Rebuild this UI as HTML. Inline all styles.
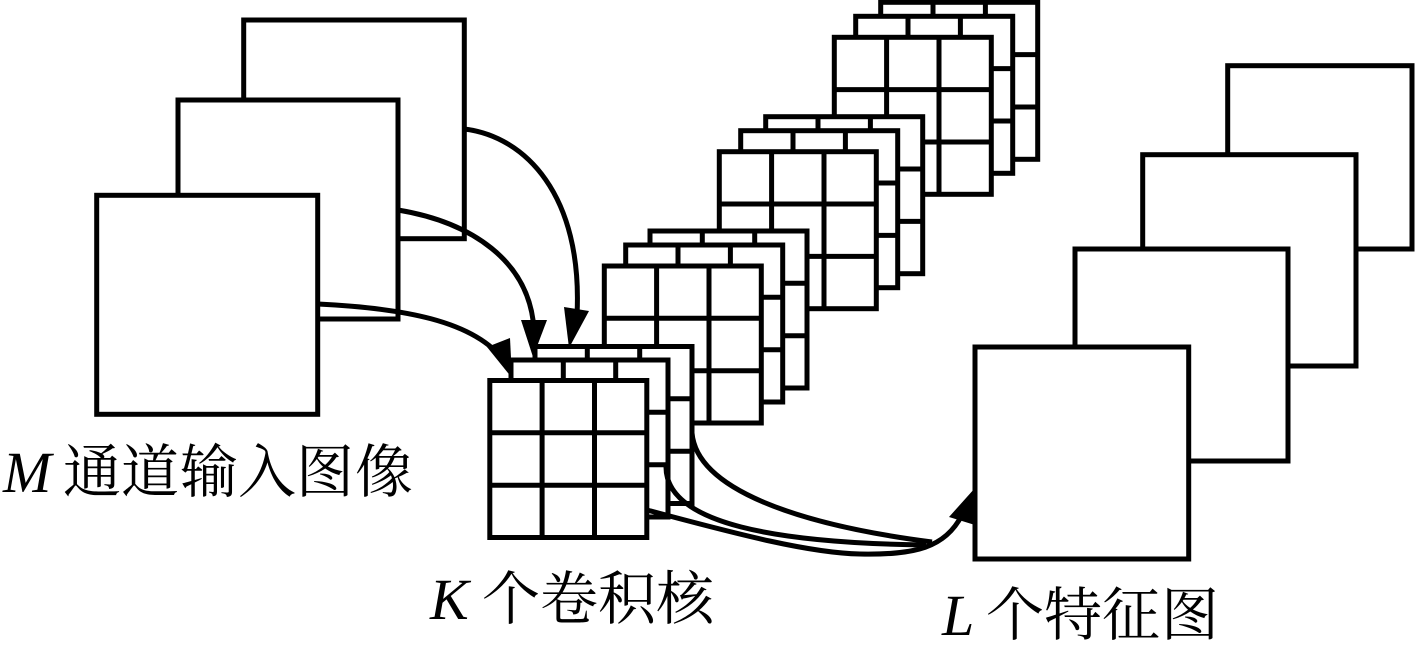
<!DOCTYPE html>
<html>
<head>
<meta charset="utf-8">
<style>
html,body{margin:0;padding:0;background:#fff;width:1416px;height:651px;overflow:hidden}
svg{display:block}
.c{font-family:"Liberation Serif","Noto Serif CJK SC",serif;font-size:58px;fill:#000}
.i{font-family:"Liberation Serif",serif;font-style:italic;font-size:58px;fill:#000}
</style>
</head>
<body>
<svg width="1416" height="651" viewBox="0 0 1416 651" xmlns="http://www.w3.org/2000/svg">
<defs>
<g id="g">
<rect x="0" y="0" width="157" height="157" fill="#fff" stroke="#000" stroke-width="5"/>
<path d="M52.3 0V157M104.7 0V157M0 52.3H157M0 104.7H157" fill="none" stroke="#000" stroke-width="5"/>
</g>
</defs>
<rect width="1416" height="651" fill="#fff"/>

<!-- left input images -->
<g fill="#fff" stroke="#000" stroke-width="5">
<rect x="243.7" y="20" width="220.6" height="218.7"/>
<rect x="178" y="100" width="220" height="219"/>
</g>

<!-- kernel groups, back to front -->
<use href="#g" x="880.7" y="2.3"/><use href="#g" x="855.7" y="16.3"/><use href="#g" x="834.3" y="37.3"/>
<use href="#g" x="765.7" y="116.7"/><use href="#g" x="740.7" y="130.7"/><use href="#g" x="719.3" y="151.7"/>
<use href="#g" x="650" y="231"/><use href="#g" x="625.7" y="245"/><use href="#g" x="604.3" y="266"/>
<use href="#g" x="535" y="346.5"/><use href="#g" x="511" y="360"/><use href="#g" x="489.8" y="380.5"/>

<!-- right feature maps -->
<g fill="#fff" stroke="#000" stroke-width="5">
<rect x="1227.7" y="65.7" width="184.3" height="183.3"/>
<rect x="1142.7" y="154.7" width="213.3" height="211.3"/>
<rect x="1075" y="249" width="213" height="212"/>
<rect x="975" y="347" width="213.7" height="212"/>
</g>

<!-- front input image -->
<rect x="96.7" y="195.3" width="221" height="219" fill="#fff" stroke="#000" stroke-width="5"/>

<!-- curves -->
<g fill="none" stroke="#000" stroke-width="5">
<path d="M464 129C525 136 583 195 577 315"/>
<path d="M398 210C470 222 530 260 534 330"/>
<path d="M318 304C400 308 475 320 505 362"/>
<path d="M692 433C697 490 800 525 932 542"/>
<path d="M666 467C666 525 780 543 926 545"/>
<path d="M647 510C740 535 810 553 860 554C915 555 945 548 962 515"/>
</g>

<!-- arrowheads -->
<g fill="#000" stroke="none">
<polygon points="521,320 547,320 533,357"/>
<polygon points="564,307 589,311 569,348"/>
<polygon points="487,347 510,338 512,378"/>
<polygon points="975,488 949,517 975,525"/>
</g>

<!-- labels -->
<text class="i" x="3" y="492">M</text>
<text class="c" x="63 121 180 238 296 355" y="492">通道输入图像</text>
<text class="i" x="430" y="619">K</text>
<text class="c" x="482 540 598 656" y="619">个卷积核</text>
<text class="i" x="942" y="635">L</text>
<text class="c" x="986 1044 1102 1161" y="635">个特征图</text>
</svg>
</body>
</html>
